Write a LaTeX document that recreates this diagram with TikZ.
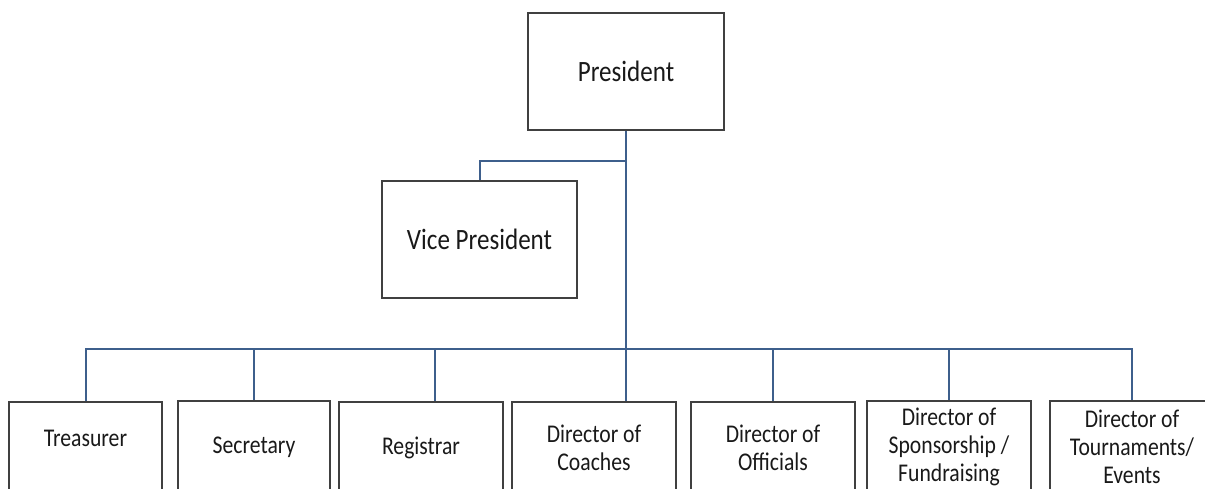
\documentclass[tikz,border=0pt]{standalone}
\usepackage{fontspec}
\setmainfont{Carlito}[FakeStretch=0.85]
\usepackage{tikz}
\usetikzlibrary{positioning}

\definecolor{linkblue}{RGB}{62,95,140}
\definecolor{boxgray}{RGB}{64,64,64}

\begin{document}
\begin{tikzpicture}[
        x=1pt, y=-1pt,
        box/.style={rectangle, draw=boxgray, line width=1.5pt, align=center, inner sep=0pt, text=black!90},
        topbox/.style={box, minimum width=196pt, minimum height=117pt, font=\fontsize{29.5}{34}\selectfont},
        rolebox/.style={box, minimum width=164pt, minimum height=92pt, font=\fontsize{25.5}{28}\selectfont},
        link/.style={draw=linkblue, line width=2pt}
    ]
        \clip (0,0) rectangle (1205,489);

        \node[topbox] (pres) at (626,71.5) {President};
        \node[topbox, minimum width=195pt] (vp) at (479.5,239.5) {Vice President};

        \node[rolebox, minimum width=153pt, text depth=20pt] (treas) at (85.5,448) {Treasurer};
        \node[rolebox, minimum width=152pt] (sec) at (254,447) {Secretary};
        \node[rolebox] (reg) at (421,448) {Registrar};
        \node[rolebox] (coach) at (594,448) {Director of\\Coaches};
        \node[rolebox] (off) at (773,448) {Director of\\Officials};
        \node[rolebox] (spon) at (949,447) {Director of\\Sponsorship /\\Fundraising};
        \node[rolebox] (tour) at (1132,447) {Director of\\Tournaments/\\Events};

        \coordinate (vpjoin) at (626,161);
        \coordinate (bus) at (626,349);

        \draw[link] (pres) -- (bus);
        \draw[link] (vpjoin) -| (vp);
        \draw[link] (treas.north) -- (treas.north |- bus) -- (tour.north |- bus) -- (tour.north);
        \foreach \n in {sec,off,spon}
            \draw[link] (bus -| \n.north) -- (\n.north);
        \draw[link] ([xshift=14pt]reg.north |- bus) -- ([xshift=14pt]reg.north);
        \draw[link] (bus) -- (bus |- coach.north);
\end{tikzpicture}
\end{document}
